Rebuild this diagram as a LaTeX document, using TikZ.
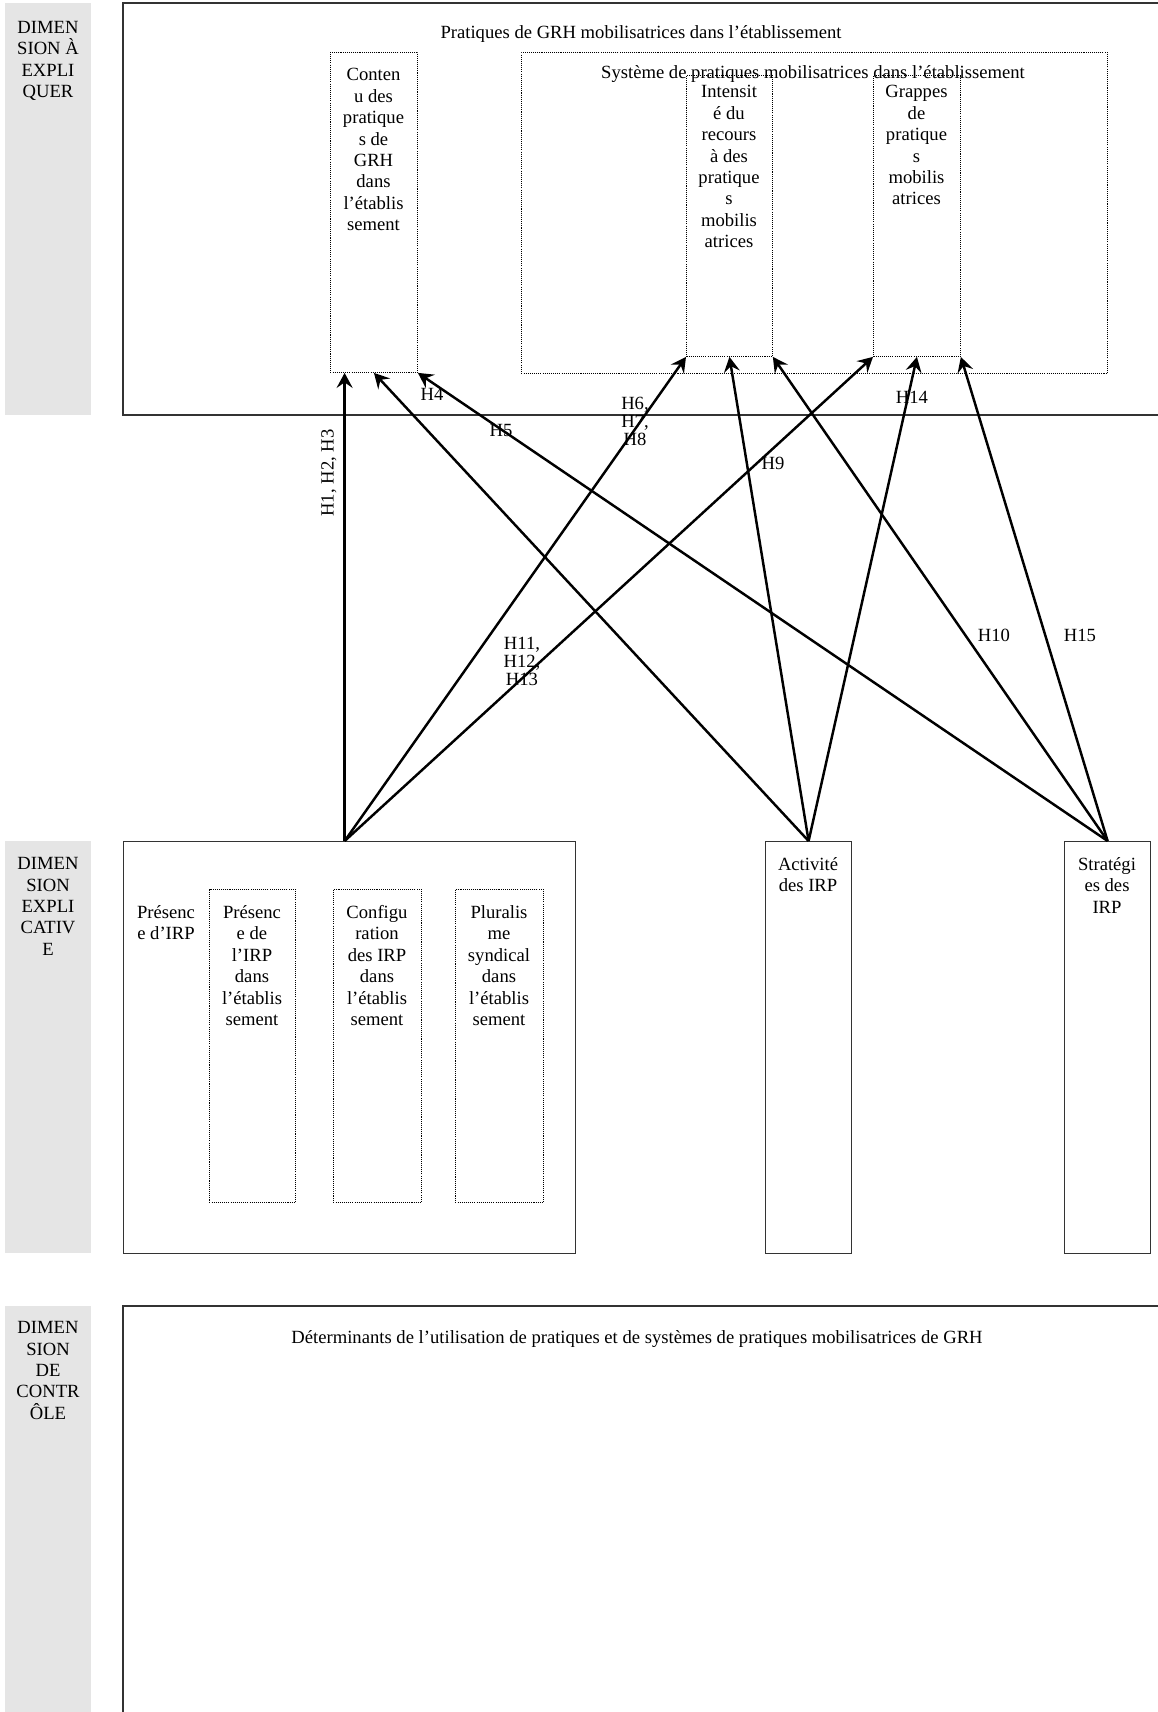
\documentclass[tikz,border=0pt]{standalone}
\usepackage{fontspec}
\setmainfont{Liberation Serif}
\usetikzlibrary{arrows.meta,positioning}

\colorlet{gris}{black!10}
\tikzset{
  caja/.style={draw=black!80, line width=0.7pt, inner sep=0pt},
  punteada/.style={draw, dash pattern=on 0.6pt off 0.6pt, line width=0.5pt, inner sep=0pt},
  texto/.style={font=\fontsize{10.6}{12.2}\selectfont, align=center, inner sep=0pt},
  hipo/.style={font=\fontsize{10.6}{10.3}\selectfont, align=center, inner sep=0pt},
  flecha/.style={-{Stealth[length=3mm,width=3.2mm,inset=1.1mm]}, line width=1.4pt},
}

\begin{document}
\begin{tikzpicture}[x=0.2mm,y=-0.2mm]
  \useasboundingbox (0,0) rectangle (1158,1712);
  \clip (0,0) rectangle (1158,1712);

  % Bandas grises
  \fill[gris] (5,3) rectangle (91,415); % dimension a explicar
  \fill[gris] (5,841) rectangle (91,1253); % dimension explicativa
  \fill[gris] (5,1306) rectangle (91,1730); % dimension de control
  \node[texto, anchor=north] (dimA) at (48,21) {DIMEN\\SION À\\EXPLI\\QUER};
  \node[texto, anchor=north] (dimB) at (48,857) {DIMEN\\SION\\EXPLI\\CATIV\\E};
  \node[texto, anchor=north] (dimC) at (48,1321) {DIMEN\\SION\\DE\\CONTR\\ÔLE};

  % Marco superior: pratiques de GRH
  \draw[caja] (123,3) rectangle (1180,415); % sale por la derecha
  \node[texto, anchor=base] (titA) at (641,38) {Pratiques de GRH mobilisatrices dans l’établissement};
  \node[punteada, anchor=north west, minimum width=17.4mm, minimum height=64mm] (contenu) at (330,52) {};
  \node[texto, anchor=north] (contenuT) at (373.5,68) {Conten\\u des\\pratique\\s de\\GRH\\dans\\l’établis\\sement};
  \node[punteada, anchor=north west, minimum width=117.2mm, minimum height=64.2mm] (systeme) at (521,52) {};
  \node[texto, anchor=base] (systemeT) at (813,78) {Système de pratiques mobilisatrices dans l’établissement};
  \node[punteada, anchor=north west, minimum width=17.2mm, minimum height=56.2mm] (intens) at (686,75) {};
  \node[texto, anchor=north] (intensT) at (729,85) {Intensit\\é du\\recours\\à des\\pratique\\s\\mobilis\\atrices};
  \node[punteada, anchor=north west, minimum width=17.4mm, minimum height=56.2mm] (grappes) at (873,75) {};
  \node[texto, anchor=north] (grappesT) at (916.5,85) {Grappes\\de\\pratique\\s\\mobilis\\atrices};

  % Bloque central: IRP
  \node[caja, anchor=north west, minimum width=90.4mm, minimum height=82.4mm] (pres) at (123,841) {};
  \node[texto, anchor=north] (presT) at (166,905) {Présenc\\e d’IRP};
  \node[punteada, anchor=north west, minimum width=17.2mm, minimum height=62.6mm] (presA) at (209,889) {};
  \node[texto, anchor=north] (presAT) at (252,905) {Présenc\\e de\\l’IRP\\dans\\l’établis\\sement};
  \node[punteada, anchor=north west, minimum width=17.6mm, minimum height=62.6mm] (config) at (333,889) {};
  \node[texto, anchor=north] (configT) at (377,905) {Configu\\ration\\des IRP\\dans\\l’établis\\sement};
  \node[punteada, anchor=north west, minimum width=17.6mm, minimum height=62.6mm] (plural) at (455,889) {};
  \node[texto, anchor=north] (pluralT) at (499,905) {Pluralis\\me\\syndical\\dans\\l’établis\\sement};
  \node[caja, anchor=north west, minimum width=17.2mm, minimum height=82.4mm] (activ) at (765,841) {};
  \node[texto, anchor=north] (activT) at (808,857) {Activité\\des IRP};
  \node[caja, anchor=north west, minimum width=17.2mm, minimum height=82.4mm] (strat) at (1064,841) {};
  \node[texto, anchor=north] (stratT) at (1107,857) {Stratégi\\es des\\IRP};

  % Marco inferior: determinantes
  \draw[caja] (123,1306) rectangle (1180,1730); % sale por la derecha y por abajo
  \node[texto, anchor=base] (detT) at (637,1343) {Déterminants de l’utilisation de pratiques et de systèmes de pratiques mobilisatrices de GRH};

  % Flechas de las hipotesis
  \coordinate (presO) at ([xshift=-1mm]pres.north);
  \draw[flecha] (presO) -- (presO |- contenu.south); % H1, H2, H3
  \draw[flecha] (presO) -- (intens.south west);
  \draw[flecha] (presO) -- (grappes.south west);
  \draw[flecha] (activ.north) -- (contenu.south);
  \draw[flecha] (activ.north) -- (intens.south);
  \draw[flecha] (activ.north) -- (grappes.south);
  \draw[flecha] (strat.north) -- (contenu.south east);
  \draw[flecha] (strat.north) -- (intens.south east);
  \draw[flecha] (strat.north) -- (grappes.south east);

  % Etiquetas
  \node[hipo, rotate=90] (h1) at (329,473) {H1, H2, H3};
  \node[hipo, anchor=base] (h4) at (432,400) {H4};
  \node[hipo, anchor=base] (h5) at (501,436) {H5};
  \node[hipo, anchor=north] (h6) at (635,397) {H6,\\H7,\\H8};
  \node[hipo, anchor=base] (h9) at (773,469) {H9};
  \node[hipo, anchor=base] (h10) at (994,641) {H10};
  \node[hipo, anchor=north] (h11) at (522,637) {H11,\\H12,\\H13};
  \node[hipo, anchor=base] (h14) at (912,403) {H14};
  \node[hipo, anchor=base] (h15) at (1080,641) {H15};
\end{tikzpicture}
\end{document}
